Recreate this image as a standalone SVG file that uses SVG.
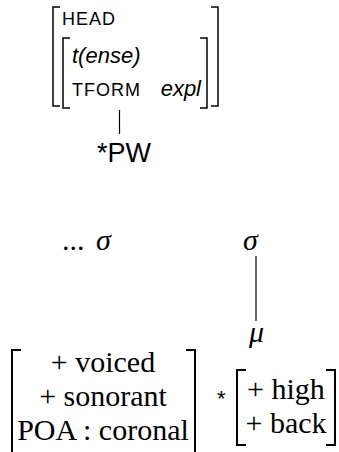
<svg xmlns="http://www.w3.org/2000/svg" width="339" height="452" viewBox="0 0 339 452">
  <style>
    .br { fill: none; stroke: #000; stroke-width: 1.5; }
    .brb { fill: none; stroke: #000; stroke-width: 2; }
    .edge { stroke: #000; stroke-width: 1.2; }
    .sc { font-family: "Liberation Sans", Arial, sans-serif; font-size: 18px; letter-spacing: 1px; fill: #000; }
    .it { font-family: "Liberation Sans", Arial, sans-serif; font-style: italic; font-size: 22px; fill: #000; }
    .pw { font-family: "Liberation Sans", Arial, sans-serif; font-size: 27px; fill: #000; }
    .rm { font-family: "Liberation Serif", "Times New Roman", serif; font-size: 30px; fill: #000; }
    .mi { font-family: "Liberation Serif", "Times New Roman", serif; font-style: italic; font-size: 30px; fill: #000; }
    .star { font-family: "Liberation Sans", Arial, sans-serif; font-size: 22px; fill: #000; }
  </style>

  <!-- attribute-value matrix for the head word -->
  <g id="avm-head">
    <path class="br" d="M60,7 H53 V106 H60"/>
    <path class="br" d="M211,7 H218 V106 H211"/>
    <text class="sc" x="62" y="25">HEAD</text>
    <path class="br" d="M70,38 H63 V108 H70"/>
    <path class="br" d="M200,38 H207 V108 H200"/>
    <text class="it" x="72" y="63">t(ense)</text>
    <text class="sc" x="72" y="96">TFORM</text>
    <text class="it" x="201" y="96" text-anchor="end">expl</text>
  </g>

  <g id="pw">
    <text class="pw" x="97" y="162">*PW</text>
  </g>

  <g id="sigma-left">
    <text class="rm" x="62" y="250">...</text>
    <text class="mi" x="96" y="250">σ</text>
  </g>

  <g id="sigma-right">
    <text class="mi" x="243" y="250">σ</text>
  </g>

  <g id="mu">
    <text class="mi" x="249" y="342">μ</text>
  </g>

  <!-- consonant feature matrix -->
  <g id="consonant">
    <path class="brb" d="M21,350 H12 V462"/>
    <path class="brb" d="M186,350 H195 V462"/>
    <text class="rm" x="103" y="372" text-anchor="middle">+ voiced</text>
    <text class="rm" x="103" y="406" text-anchor="middle">+ sonorant</text>
    <text class="rm" x="103" y="440" text-anchor="middle">POA : coronal</text>
  </g>

  <!-- starred vowel feature matrix -->
  <g id="vowel">
    <text class="star" x="217" y="406">*</text>
    <path class="brb" d="M246,370 H237 V445 H246"/>
    <path class="brb" d="M326,370 H335 V445 H326"/>
    <text class="rm" x="286" y="399" text-anchor="middle">+ high</text>
    <text class="rm" x="286" y="433" text-anchor="middle">+ back</text>
  </g>

  <g id="connectors">
    <line class="edge" x1="119.5" y1="110" x2="119.5" y2="134"/>
    <line class="edge" x1="256" y1="256" x2="256" y2="321"/>
  </g>
</svg>
